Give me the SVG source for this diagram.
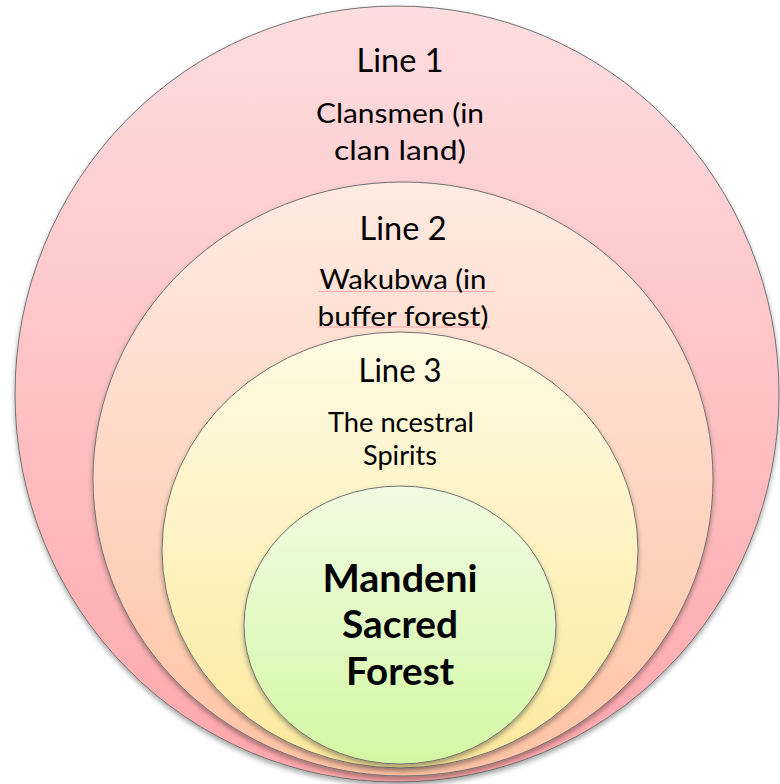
<svg xmlns="http://www.w3.org/2000/svg" width="780" height="784" viewBox="0 0 780 784">
<defs>
<linearGradient id="gRed" x1="0" y1="0" x2="0" y2="1"><stop offset="0" stop-color="#FDDDDF"/><stop offset="1" stop-color="#FFA7AB"/></linearGradient>
<linearGradient id="gPeach" x1="0" y1="0" x2="0" y2="1"><stop offset="0" stop-color="#FFEAE2"/><stop offset="1" stop-color="#FFC3A4"/></linearGradient>
<linearGradient id="gYellow" x1="0" y1="0" x2="0" y2="1"><stop offset="0" stop-color="#FFFBE4"/><stop offset="1" stop-color="#FCE99E"/></linearGradient>
<linearGradient id="gGreen" x1="0" y1="0" x2="0" y2="1"><stop offset="0" stop-color="#F0FCE2"/><stop offset="1" stop-color="#D4F7A4"/></linearGradient>
<filter id="sh" x="-10%" y="-10%" width="120%" height="125%"><feDropShadow dx="0" dy="3" stdDeviation="2.5" flood-color="#000" flood-opacity="0.35"/></filter>
</defs>
<style>
.ring{stroke:#707070;stroke-width:1;filter:url(#sh)}
.t{font-family:Lato,"Liberation Sans",sans-serif;fill:#000;text-anchor:middle}
.h{font-size:32px}
.b{font-size:26px}
.big{font-size:38px;font-weight:bold}
.sp{stroke:#F3A3AA;stroke-width:1}
</style>
<g id="line1">
<ellipse class="ring" cx="397" cy="394" rx="382" ry="388" fill="url(#gRed)"/>
<text class="t h" x="400" y="72" textLength="87" lengthAdjust="spacingAndGlyphs">Line 1</text>
<text class="t b" x="400" y="123" textLength="168" lengthAdjust="spacingAndGlyphs">Clansmen (in</text>
<text class="t b" x="400" y="160" textLength="132" lengthAdjust="spacingAndGlyphs">clan land)</text>
</g>
<g id="line2">
<ellipse class="ring" cx="403" cy="479" rx="310" ry="297" fill="url(#gPeach)"/>
<text class="t h" x="403" y="240" textLength="87" lengthAdjust="spacingAndGlyphs">Line 2</text>
<line class="sp" x1="318" y1="291.5" x2="495" y2="291.5"/>
<line class="sp" x1="318" y1="327" x2="490" y2="327"/>
<text class="t b" x="403" y="289" textLength="167" lengthAdjust="spacingAndGlyphs">Wakubwa (in</text>
<text class="t b" x="403" y="326" textLength="171" lengthAdjust="spacingAndGlyphs">buffer forest)</text>
</g>
<g id="line3">
<ellipse class="ring" cx="400" cy="550" rx="238" ry="218" fill="url(#gYellow)"/>
<text class="t h" x="400" y="382" textLength="83" lengthAdjust="spacingAndGlyphs">Line 3</text>
<text class="t b" x="401" y="432" textLength="146" lengthAdjust="spacingAndGlyphs">The ncestral</text>
<text class="t b" x="400" y="465" textLength="74" lengthAdjust="spacingAndGlyphs">Spirits</text>
</g>
<g id="forest">
<ellipse class="ring" cx="400" cy="625" rx="156" ry="139" fill="url(#gGreen)"/>
<text class="t big" x="400" y="592" textLength="155" lengthAdjust="spacingAndGlyphs">Mandeni</text>
<text class="t big" x="400" y="638" textLength="116" lengthAdjust="spacingAndGlyphs">Sacred</text>
<text class="t big" x="400" y="685" textLength="108" lengthAdjust="spacingAndGlyphs">Forest</text>
</g>
<g id="connectors"></g>
</svg>
